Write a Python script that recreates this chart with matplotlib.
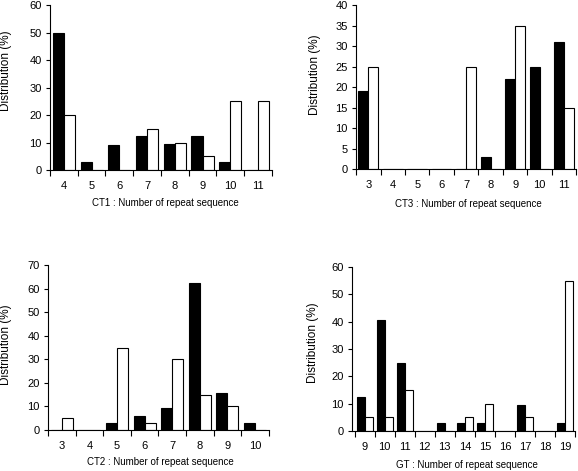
import numpy as np
import matplotlib
matplotlib.use('Agg')
import matplotlib.pyplot as plt
from matplotlib.ticker import FixedLocator

plt.rcParams['font.family'] = ['Liberation Sans', 'DejaVu Sans']

# CT1
ct1_cat = [4, 5, 6, 7, 8, 9, 10, 11]
ct1_black = [50, 3, 9, 12.5, 9.4, 12.5, 3, 0]
ct1_white = [20, 0, 0, 15, 10, 5, 25, 25]

# CT3
ct3_cat = [3, 4, 5, 6, 7, 8, 9, 10, 11]
ct3_black = [19, 0, 0, 0, 0, 3, 22, 25, 31]
ct3_white = [25, 0, 0, 0, 25, 0, 35, 0, 15]

# CT2
ct2_cat = [3, 4, 5, 6, 7, 8, 9, 10]
ct2_black = [0, 0, 3, 6, 9.4, 62.5, 15.6, 3]
ct2_white = [5, 0, 35, 3, 30, 15, 10, 0]

# GT
gt_cat = [9, 10, 11, 12, 13, 14, 15, 16, 17, 18, 19]
gt_black = [12.5, 40.6, 25, 0, 3, 3, 3, 0, 9.4, 0, 3]
gt_white = [5, 5, 15, 0, 0, 5, 10, 0, 5, 0, 55]

panels = [
    # rect, cats, black, white, ymax, ystep, xlabel, x-offset, ylabel pos, xlabel pos
    ([0.0865, 0.639, 0.384, 0.350], ct1_cat, ct1_black, ct1_white, 60, 10,
     'CT1 : Number of repeat sequence', 0.0, (-0.171, 0.60), (0.518, -0.172)),
    ([0.616, 0.641, 0.381, 0.348], ct3_cat, ct3_black, ct3_white, 40, 5,
     'CT3 : Number of repeat sequence', 0.0, (-0.159, 0.573), (0.51, -0.185)),
    ([0.083, 0.087, 0.382, 0.350], ct2_cat, ct2_black, ct2_white, 70, 10,
     'CT2 : Number of repeat sequence', 0.0, (-0.163, 0.515), (0.51, -0.165)),
    ([0.609, 0.085, 0.386, 0.348], gt_cat, gt_black, gt_white, 60, 10,
     'GT : Number of repeat sequence', 0.13, (-0.148, 0.537), (0.516, -0.18)),
]

fig = plt.figure(figsize=(5.78, 4.71), dpi=100)

for rect, cats, black, white, ymax, ystep, xlabel, off, ylpos, xlpos in panels:
    ax = fig.add_axes(rect)
    x = np.arange(len(cats))
    ax.bar(x - 0.2, black, width=0.4, color='black', edgecolor='black', linewidth=0.8)
    ax.bar(x + 0.2, white, width=0.4, color='white', edgecolor='black', linewidth=0.8)
    ax.set_xlim(-0.5 - off, len(cats) - 0.5)
    ax.set_ylim(0, ymax)
    ax.set_yticks(np.arange(0, ymax + 1, ystep))
    ax.set_xticks(x)
    ax.set_xticklabels([str(c) for c in cats])
    ax.xaxis.set_minor_locator(FixedLocator(np.arange(len(cats) + 1) - 0.5))
    ax.tick_params(axis='x', which='major', length=0, pad=8, labelsize=8)
    ax.tick_params(axis='x', which='minor', length=4, width=0.8)
    ax.tick_params(axis='y', length=3, width=0.8, pad=3, labelsize=8)
    ax.spines['top'].set_visible(False)
    ax.spines['right'].set_visible(False)
    ax.spines['left'].set_linewidth(0.8)
    ax.spines['bottom'].set_linewidth(0.8)
    ax.set_ylabel('Distribution (%)', fontsize=8.5)
    ax.yaxis.set_label_coords(*ylpos)
    ax.set_xlabel(xlabel, fontsize=7)
    ax.xaxis.set_label_coords(*xlpos)

fig.savefig('out.png', dpi=100)
